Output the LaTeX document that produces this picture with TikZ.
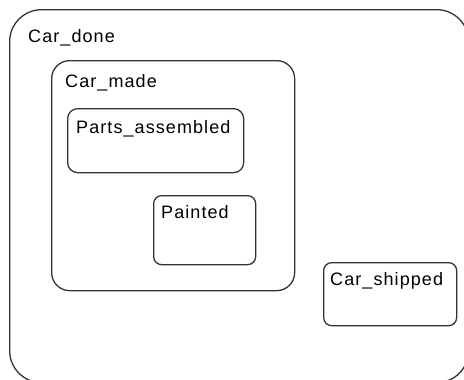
\documentclass[tikz,border=0pt]{standalone}
\usepackage{fontspec}
\setmainfont{Liberation Sans}[LetterSpace=6]
\usepackage{tikz}
\usetikzlibrary{positioning}

\begin{document}
\begin{tikzpicture}[x=1pt,y=-1pt,
    statebox/.style={draw=black!80,line width=1.3pt,anchor=north west,inner sep=0pt},
    statelabel/.style={anchor=base west,inner sep=0pt,font=\fontsize{18}{20}\selectfont}]
  \useasboundingbox (0,0) rectangle (464,380);
  \clip (0,0) rectangle (464,380);

  % states
  \node[statebox,rounded corners=32pt,minimum width=459pt,minimum height=373pt] (done) at (9,9) {};
  \node[statebox,rounded corners=18pt,minimum width=243pt,minimum height=230pt] (made) at (51,60) {};
  \node[statebox,rounded corners=10pt,minimum width=176pt,minimum height=64pt] (assembled) at (67,108) {};
  \node[statebox,rounded corners=8pt,minimum width=102pt,minimum height=69pt] (painted) at (153,195) {};
  \node[statebox,rounded corners=8pt,minimum width=133pt,minimum height=63pt] (shipped) at (323,262) {};

  % names
  \node[statelabel] (done label) at (28,42) {Car\_done};
  \node[statelabel] (made label) at (65,87) {Car\_made};
  \node[statelabel] (assembled label) at (76,133) {Parts\_assembled};
  \node[statelabel] (painted label) at (161,218) {Painted};
  \node[statelabel] (shipped label) at (330,285) {Car\_shipped};
\end{tikzpicture}
\end{document}
